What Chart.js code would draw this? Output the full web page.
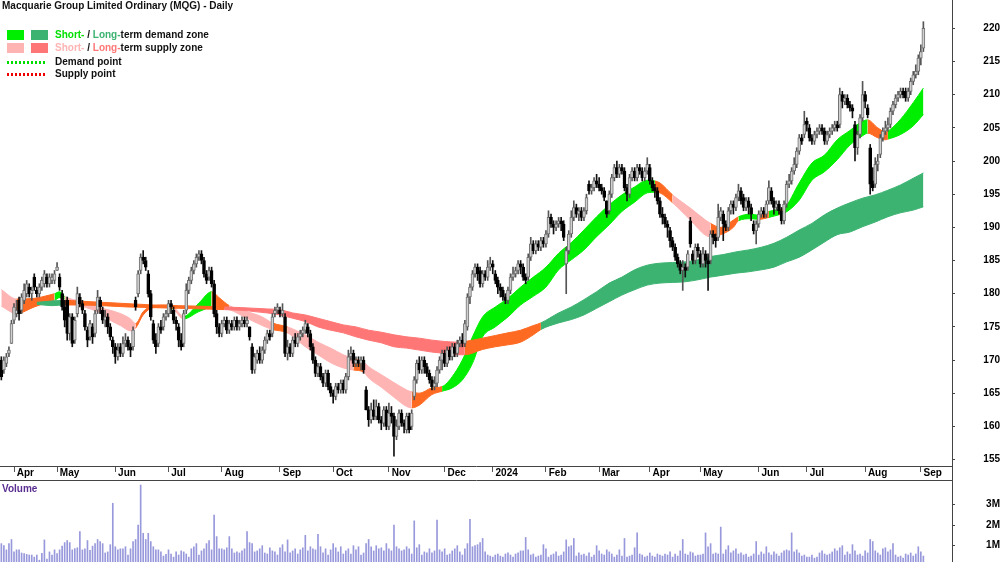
<!DOCTYPE html>
<html>
<head>
<meta charset="utf-8">
<script src="https://cdn.jsdelivr.net/npm/chart.js@4.4.1/dist/chart.umd.min.js"></script>
<style>
html,body{margin:0;padding:0;background:#fff}
body{width:1000px;height:562px;position:relative;overflow:hidden;font-family:"Liberation Sans",Arial,Helvetica,sans-serif}
canvas{position:absolute;left:0}
#priceCanvas{top:0}
#volCanvas{top:480px}
.txt{position:absolute;font-size:10px;font-weight:bold;line-height:12px;white-space:nowrap;color:#111}
.sw{position:absolute;width:17px;height:10px}
.dots{position:absolute;left:7px;width:38px;height:3px}
</style>
</head>
<body>
<canvas id="priceCanvas" width="1000" height="481"></canvas>
<canvas id="volCanvas" width="1000" height="82"></canvas>
<div class="txt" style="left:2px;top:0px">Macquarie Group Limited Ordinary (MQG) - Daily</div>
<div class="sw" style="left:7px;top:30px;background:#00ee00"></div>
<div class="sw" style="left:31px;top:30px;background:#3cb371"></div>
<div class="txt" style="left:55px;top:29px"><span style="color:#00e000">Short-</span> / <span style="color:#3cb371">Long-</span>term demand zone</div>
<div class="sw" style="left:7px;top:43px;background:#ffb4b4"></div>
<div class="sw" style="left:31px;top:43px;background:#ff7676"></div>
<div class="txt" style="left:55px;top:42px"><span style="color:#ffb4b4">Short-</span> / <span style="color:#ff7676">Long-</span>term supply zone</div>
<div class="dots" style="top:61px;background:repeating-linear-gradient(90deg,#00dd00 0 2px,transparent 2px 4px)"></div>
<div class="txt" style="left:55px;top:56px">Demand point</div>
<div class="dots" style="top:73px;background:repeating-linear-gradient(90deg,#ee0000 0 2px,transparent 2px 4px)"></div>
<div class="txt" style="left:55px;top:68px">Supply point</div>
<div class="txt" style="left:2px;top:483px;color:#5a2d91">Volume</div>
<script>
// ---------- axis labels ----------
const monthTickIdx = [5,22,45,66,87,110,131,153,175,194,215,236,256,276,299,318,341,363];
const monthLabels = ['Apr','May','Jun','Jul','Aug','Sep','Oct','Nov','Dec','2024','Feb','Mar','Apr','May','Jun','Jul','Aug','Sep'];
const priceTicks = [155,160,165,170,175,180,185,190,195,200,205,210,215,220];
const volTicks = [1,2,3];
const volTickLabels = ['1M','2M','3M'];

// ---------- daily candles (trading-day index 0..364) ----------
const open = [
170,168.5,169.5,171,172.5,176,177,179,177.5,179,
180,181,180,182.5,180.5,180,181,181.5,182.5,181.5,
182,182,183.5,182.5,180,178,179,174,176.5,173,
177,179.5,178.5,177,174.5,173.5,175,174,177.5,179,
177.5,176,176.5,175,173,172,170.5,172,171,172.5,
173,172,172,179,180,183.5,185.5,185,183,180,
175.5,173,172.5,175,175,176.5,177,178.5,177.5,176,
175,173,172.5,177.5,180.5,182,183.5,184.5,185.5,186,
185,183,182.5,183.5,181.5,177,175,174,175.5,176,
174.5,175.5,175,176,175,175.5,176,175.5,175,172,
168.5,170,171,170,171.5,173,174,174,177,177.5,
177.5,177,176.5,171,172,171,173,172.5,173.5,174,
174.5,175,174,172,170,168,169,167.5,166.5,168,
166,165,164.5,166,165.5,166.5,165.5,167.5,170.5,171,
169.5,170,169.5,170,165.5,162.5,161,162.5,161.5,163,
161,160.5,162.5,160,162,161.5,158.5,160,162,160.5,
159.5,161.5,160,164.5,167,169.5,168.5,170,169,168,
167,166,166.5,168.5,170,171,169.5,171.5,170.5,172,
171,172.5,173,172.5,175,179.5,181,183,184,183.5,
181.5,183,182.5,184,184.5,183,182,181,180.5,179.5,
179,180.5,182.5,183,183.5,184.5,184,182.5,182.5,185.5,
187.5,186.5,187.5,187,188,187.5,189,191.5,190.5,190,
190.5,191,190.5,184.5,186.5,189,191.5,193,192,192.5,
191.5,192.5,196.5,195.5,196,197,196.5,196,195.5,194,
192.5,195,197.5,199,198,199,198.5,196,195,197.5,
198.5,197.5,199,198.5,197.5,198.5,199,197,196,195.5,
194,192,191.5,190.5,189.5,188,187,185.5,184.5,183.5,
184,184,191,186,185,187,186,184.5,186,185,
185,189,188.5,188.5,191.5,192,190.5,190,192.5,193.5,
193,194.5,195.5,194.5,193,194,193,190.5,189.5,190.5,
192,192.5,192,194,195.5,194,193,193.5,192.5,191,
193.5,196.5,197,198.5,199.5,201.5,203.5,204,206,205,
203.5,203,204,204.5,205,204.5,203,204,204.5,205,
205.5,205.5,210,209,209.5,208.5,208,205.5,202,204,
206.5,210,208,202,197,196.5,199.5,201,203.5,204.5,
205,205.5,207.5,208.5,209.5,210,210.5,210.5,209.5,210.5,
212,213,213.5,215.5,217];
const high = [
170.5,170.5,171,172,176,178.5,179,179.5,180,181.5,
182,181.5,181,183,181,181.5,182.5,183.5,183,183,
183,183.5,184.7,183,180.5,179,179.5,177,177,176.5,
181,180,179,177.5,175,176,175.5,177.5,180.5,179.5,
178,177.5,177,175.5,173.5,172.5,172.5,172.5,173.5,174,
173.5,172.5,175,179.5,183.5,186,186.5,185.5,183.5,180.5,
176,174,175.5,176,177,177.5,179,179,178,176.5,
175.5,174,177.5,181.5,182.5,184,185,186,186.5,186.5,
185.5,183.5,184,184,182,177.5,175.5,176,176.5,176.5,
176,176,176.5,176.5,176,176.5,176.5,176.5,175,172.5,
171,171.5,172,172,173.5,174.5,174.5,177,178,178.5,
178,178.5,177,173,172.5,173.5,174,174,174.5,175,
176,175.5,174.5,172.5,170.5,169.5,169.5,168,168.5,168.5,
166.5,165.5,166.5,166.5,167,167,168,171.5,172,171.5,
170.5,170.5,170.5,170.5,166,163,163.5,164,164,163.5,
161.5,163,163,163.5,163,162,161,162.5,162.5,161,
162,162,162.5,167.5,170,170.5,170.5,170.5,169.5,168.5,
167.5,167.5,169,170.5,171.5,171.5,172,172,172.5,172.5,
173,173.5,174,176,180,181.5,183.5,184.5,184.5,184,
183.5,183.5,185,185.5,185,183.5,182.5,181.5,181,180,
181,183,184,184,185,185,184.5,183,186,188.5,
188,188,188,188.5,188.5,189.5,192.5,192,191,191,
191.5,191.5,191,187,189.5,192.5,194,193.5,193,193,
193,195,197,196.5,197.5,198,197.5,196.5,196,194,
195.5,198,199.5,200,199.5,199.5,199,196.5,198,199,
199,199.5,199.5,199,199,200.5,199.5,197.5,196.5,196,
194.5,193,192,191,190,188.5,187.5,186,185,185,
184.5,186.5,191.5,186.5,187.5,187.5,186.5,187,186.5,186,
189.5,189.5,189,193.5,193,192.5,191,193,194,194,
195,196.5,196,195,194.5,194.5,193.5,191,191,192.5,
193,193,194,197,196,194.5,194,194,193,194,
197,198,199,200.5,202,204,204,207.5,206.5,205.5,
204,204.5,205,205.5,205.5,205,204.5,205,205.5,206,
206,211,210.5,210,210,209,208.5,206,204.5,207,
212,210.5,208.5,202.5,199,200.5,201,204,205,206,
206.5,208,209,210,210.5,211,211,211,211,212.5,
213.5,214.5,216,217.5,221];
const low = [
167,168,169,170.5,172.5,175.5,176.5,176,177,178.5,
179.5,179.5,179,180.5,179.5,179.5,180.5,181,181,181,
181.5,181.5,183.5,180.5,177.5,175,173,173,172,172.5,
176.5,178,177,174.5,172,173,172.5,173.5,177,177,
175.5,175,174,173,171,169.5,170,170.5,170.5,172,
171.5,170.5,171.5,177.5,179.5,183,184.5,183.5,179.5,176,
172.5,171,172,174,174.5,176,176.5,177,175.5,174.5,
172,171.5,172,177,180,181.5,183,184,185,184.5,
182.5,181.5,182,181,176.5,174,173.5,173.5,175,174,
174,174.5,174.5,174.5,174.5,175,175,175,173,168,
168,169.5,169.5,169.5,171,172.5,173,173.5,176.5,177,
176.5,176.5,170.5,170,170.5,170.5,172,172,173,173.5,
174,173.5,171.5,169.5,167.5,167.5,167,166,166,165.5,
164.5,163.5,164,165,165,165,165,167,170,169,
169,169,168.5,168,162.5,160,160.5,161,161,160.5,
159.5,160,159.5,159.5,160.5,155.5,158,159.5,160,159,
159,159,159.5,164,166.5,168,168,168,167.5,166.5,
165.5,165.5,166,168,168.5,169,169,170,170,170.5,
170.5,172,172,172,174.5,178.5,180.5,182.5,182,181,
181,182,182,183.5,183,181.5,180,179.5,179,178.5,
178.5,180,182,182.5,183,183,182,181.5,182,185,
186,186,186.5,186.5,187,187,188.5,190,189,189.5,
190,189.5,188,180,186,188.5,191,191.5,191,191,
191,192,195,195,195.5,196,195.5,195,194,191.5,
192,194.5,197,197.5,197.5,198,195.5,194,194.5,197,
197,197,198,197,197,198,196.5,195.5,194.5,193.5,
191.5,190.5,190,188.5,187,186.5,185,184,183,180.5,
182.5,183.5,187,184.5,184.5,185.5,184,184,184,180.5,
184.5,187.5,187,188,191,188,189.5,189.5,192,192,
192.5,194,193.5,192.5,192.5,192,191,189,187.5,190,
191.5,191.5,191.5,193.5,193.5,192,192.5,192,190.5,190.5,
193,196,196.5,198,199,201,202.5,203.5,204.5,203,
202.5,202.5,203.5,204,204,202.5,202.5,203.5,204,204.5,
204.5,205,208,208.5,208,207.5,206.5,200,201,203.5,
206,208,206.5,195,195.5,196,198.5,200.5,203,204,
204.5,205,207,208,209,209.5,209.5,209,209,210,
211.5,212.5,213,214.5,216.5];
const close = [
167.5,170,170.5,171.5,175.5,178,177.5,177,179.5,180.5,
181.5,180,180.5,181,180,181,182,183,181.5,182.5,
182.5,183,184,181,178,176,174,176.5,172.5,176,
180,178.5,177.5,175,173,175.5,173.5,177,179.5,178,
176,176.5,175,173.5,172,170.5,171.5,171,172.5,173,
172,171.5,174.5,178,183,185.5,185,184,180,176.5,
173,172,175,174.5,176.5,177,178.5,178,176,175.5,
173,172,177,180.5,182,183.5,184.5,185.5,186,185,
183,182,183.5,181.5,177,175,174,175.5,176,174.5,
175.5,175,176,175,175.5,176,175.5,176,173.5,168.5,
170.5,171,170,171.5,173,174,173.5,176.5,177.5,178,
177,177.5,171,172,171,173,172.5,173.5,174,174.5,
175.5,174,172,170,168,169,167.5,166.5,168,166,
165,164.5,166,165.5,166.5,165.5,167.5,170.5,171,169.5,
170,169.5,170,168.5,162.5,161,162.5,161.5,163,161,
160.5,162.5,160,162,161.5,158.5,160,162,160.5,160,
161.5,159.5,162,167,169.5,168.5,170,169,168,167,
166,166.5,168.5,170,171,169.5,171.5,170.5,172,171,
172.5,173,172.5,175.5,179.5,181,183,184,183,181.5,
183,182.5,184,184.5,184,182,181,180.5,179.5,179,
180.5,182.5,183,183.5,184.5,184,182.5,182,185.5,187.5,
186.5,187.5,187,188,187.5,189,191.5,190.5,190,190.5,
191,190.5,188.5,186.5,189,191.5,193,192,192.5,191.5,
192.5,194.5,195.5,196,197,196.5,196,195.5,194.5,192,
195,197.5,199,198,199,198.5,196,195,197.5,198.5,
197.5,199,198.5,197.5,198.5,199.5,197,196,195.5,194,
192,191.5,190.5,190,188,187,185.5,184.5,183.5,184,
183.5,186,187.5,185,187,186.5,184.5,186,185,184.5,
189,188.5,188,191.5,192.5,190.5,190,192.5,193.5,193,
194.5,195.5,194,193,194,193,192,189.5,190.5,192,
192.5,192,193.5,196,194,193,193.5,192.5,191,193.5,
196.5,197,198.5,199.5,201.5,203.5,203,205.5,205.5,203.5,
203,204,204.5,205,204.5,203,204,204.5,205,205.5,
205,210,209,209.5,208.5,208,207.5,202,204,206.5,
210,209,207,196.5,196,199.5,200,203.5,204.5,205,
205.5,207.5,208.5,209.5,210,210.5,210,209.5,210.5,212,
213,213.5,215.5,216.5,220];
// volume in millions
const volume = [
1.1,1.0,0.8,1.1,1.3,0.7,0.8,0.8,0.65,0.62,
0.58,0.55,0.55,0.45,0.55,0.3,0.63,1.28,0.35,0.7,
0.55,0.8,0.62,0.8,0.98,1.15,1.25,1.15,0.8,0.86,
0.9,1.68,0.8,0.85,1.25,0.78,0.98,1.1,1.3,1.2,
1.1,0.65,0.7,1.05,3.05,0.95,0.8,0.85,0.85,0.95,
0.55,0.85,1.2,1.3,2.0,3.93,1.6,1.3,1.6,1.2,
0.95,0.8,0.8,0.7,0.5,0.58,0.8,0.6,0.45,0.7,
0.55,0.75,0.7,0.6,0.45,0.85,0.95,1.1,0.55,0.75,
0.85,1.1,1.25,0.8,2.48,1.44,0.85,0.85,0.8,0.9,
1.44,0.85,0.65,0.7,0.65,0.75,0.85,1.68,1.15,1.1,
0.7,0.75,0.85,1.0,0.65,0.6,0.9,0.75,0.7,0.55,
0.9,1.05,0.7,1.28,0.65,0.75,0.85,0.6,0.8,0.9,
1.5,0.75,0.95,0.85,0.8,1.55,0.95,0.65,0.85,0.55,
0.8,1.1,0.9,0.7,0.95,0.6,0.75,0.85,0.6,1.0,
0.8,0.95,0.55,0.65,1.1,1.3,0.95,0.75,1.0,0.85,
0.9,0.75,1.1,0.85,0.75,2.0,0.95,0.85,0.75,0.8,
0.95,0.85,0.6,2.2,0.9,1.05,0.55,0.7,0.65,0.85,
0.65,0.75,2.24,0.8,0.7,0.85,0.55,0.6,0.75,0.85,
1.0,0.7,0.55,0.85,1.1,2.27,0.95,1.0,1.05,1.15,
1.35,0.7,0.55,0.5,0.45,0.55,0.6,0.5,0.45,0.6,
0.65,0.55,0.45,0.6,0.65,0.75,0.75,1.4,0.8,0.55,
0.6,0.45,0.5,0.55,1.05,0.85,0.45,0.55,0.6,0.7,
0.5,0.55,0.7,1.28,0.95,1.0,1.35,0.5,0.65,0.55,
0.6,0.5,0.65,0.45,0.55,1.0,0.75,0.6,0.55,0.8,
0.7,0.6,0.45,0.55,0.8,0.5,1.35,0.45,0.5,0.55,
0.9,1.62,0.6,0.55,0.45,0.5,0.65,0.5,0.45,0.6,
0.55,0.5,0.6,0.55,0.7,0.45,0.6,0.5,0.75,1.3,
0.6,0.55,0.7,0.65,0.5,0.55,0.55,0.6,1.62,0.95,
1.1,0.6,0.65,0.6,1.9,0.6,0.8,1.0,0.65,0.75,
0.85,0.6,0.65,0.55,0.6,0.45,0.5,0.6,1.2,0.55,
0.7,0.6,0.95,0.65,0.55,0.7,0.6,0.5,0.65,0.75,
0.8,0.75,1.62,0.7,0.8,0.65,0.5,0.55,0.45,0.45,
0.55,0.4,0.45,0.65,0.75,0.6,0.55,0.6,0.7,0.85,
0.75,0.9,1.0,0.55,0.7,0.6,1.05,0.75,0.55,0.6,
0.5,0.75,0.65,1.3,1.2,0.75,0.65,0.55,0.85,0.9,
0.7,0.8,1.1,0.55,0.45,0.5,0.4,0.6,0.55,0.65,
0.5,0.6,0.95,0.7,0.5];

// ---------- short-term zone (read at these trading days) ----------
const stDays = [0,6,13,19,21,23,25,32,39,43,47,51,53,56,60,66,68,72,78,83,86,90,97,103,107,113,120,125,130,135,139,143,145,150,155,160,162,165,170,174,178,182,186,190,195,200,205,210,215,220,225,230,235,240,245,250,255,258,260,265,272,278,280,284,289,291,296,299,303,307,309,315,320,325,330,335,340,342,346,349,350,355,360,364];
const stHi = [180.6,179.2,179.3,179.8,180.0,180.3,179.6,178.8,177.9,177.5,177.0,176.2,175.5,177.3,178.2,178.3,178.0,176.6,178.6,180.3,179.4,178.2,177.3,176.5,175.6,175.0,173.8,172.7,171.8,170.8,170.2,169.7,169.0,167.8,166.6,165.5,165.2,165.0,165.8,166.0,167.5,170.0,173.5,176.5,178.0,179.3,181.0,182.5,184.0,186.1,187.7,189.6,191.6,193.4,194.9,196.1,197.1,197.0,196.7,194.9,192.9,191.1,190.6,190.0,191.1,191.6,192.0,191.8,192.4,192.7,192.9,196.7,199.7,200.9,203.2,204.6,206.0,206.2,205.0,204.4,204.5,206.3,208.8,211.0];
const stLo = [178.1,177.0,178.0,178.8,179.0,179.4,179.2,178.1,177.1,176.0,175.2,174.4,174.8,176.8,177.9,178.0,177.6,176.2,177.3,177.9,177.9,177.6,176.3,175.2,174.6,174.1,172.0,170.8,169.6,168.8,168.5,168.2,167.3,165.9,164.4,163.0,162.8,163.2,164.8,165.3,165.8,167.0,169.5,173.5,175.0,176.5,178.3,179.6,181.0,183.6,185.1,186.6,188.6,190.4,192.4,193.8,195.2,195.3,195.2,193.7,191.1,188.8,188.6,188.9,190.0,191.0,191.3,191.2,191.5,191.9,192.1,194.1,197.1,198.4,200.2,202.4,203.8,204.2,203.5,203.2,203.3,204.0,205.3,207.0];
// zone state from each point: D demand, S supply, N neutral (orange)
const stZone = 'SNNNDDSSSSSSNNNDSDDNNSSSNSSSSSNSSSSSNNNDDDDDDDDDDDDDDDDDDNNSSSNNNDDNDNDDDDDDDNNNDDDD';

// ---------- long-term zone ----------
const ltDays = [14,20,25,30,40,50,60,70,80,88,95,100,105,110,115,120,125,130,135,140,145,150,155,160,165,170,175,180,183,190,195,200,205,210,213,220,225,230,235,240,245,250,255,260,265,270,275,280,285,290,295,300,305,310,315,320,325,330,335,340,345,350,355,360,364];
const ltHi = [178.7,178.9,179.0,178.9,178.7,178.5,178.3,178.2,178.1,178.0,177.9,177.8,177.7,177.6,177.1,176.8,176.3,175.8,175.3,175.0,174.5,174.2,173.8,173.5,173.3,173.0,172.8,172.7,172.8,173.3,173.7,174.1,174.5,175.2,175.6,177.1,178.0,179.1,180.3,181.6,182.5,183.6,184.3,184.6,184.7,184.8,185.1,185.6,185.9,186.3,186.6,187.0,187.6,188.5,189.6,190.6,191.9,192.9,193.7,194.4,194.9,195.6,196.4,197.4,198.2];
const ltLo = [178.4,178.2,178.3,178.3,178.2,178.0,177.9,177.8,177.7,177.6,177.5,177.3,177.1,176.8,176.3,175.8,175.0,174.5,174.1,173.5,173.0,172.6,172.0,171.8,171.5,171.2,171.0,170.8,170.8,171.6,172.0,172.3,172.7,173.8,174.6,175.6,176.1,176.8,177.8,178.8,179.8,180.6,181.3,181.6,181.7,181.8,182.1,182.5,182.8,183.1,183.3,183.6,184.0,184.8,185.5,186.6,187.8,188.9,189.3,190.1,190.8,191.6,192.2,192.6,193.1];
const ltZone = 'DDNNNNNNNSSSSSSSSSSSSSSSSSSSNNNNNNDDDDDDDDDDDDDDDDDDDDDDDDDDDDDDD';

// ---------- styling ----------
const FONT = {family:'"Liberation Sans", Arial, sans-serif', size:10, weight:'bold'};
const X_MIN = -0.53, X_MAX = 375.3;
const ST_COL = {D:'#00ee00', S:'#ffb4b4', N:'#ff6a22'};
const LT_COL = {D:'#3cb371', S:'#ff7676', N:'#ff6a22'};
const AXIS_COL = '#444';

const days = close.map((_, i) => i);

function bandDs(dArr, vals, zones, cols, fill, order) {
  return {
    type:'line', order, fill,
    data: dArr.map((d,k) => ({x:d, y:vals[k]})),
    borderWidth:1, pointRadius:0, pointHoverRadius:0,
    cubicInterpolationMode:'monotone',
    borderColor: cols[zones[0]], backgroundColor: cols[zones[0]],
    segment:{
      borderColor: c => cols[zones[c.p0DataIndex]],
      backgroundColor: c => cols[zones[c.p0DataIndex]]
    }
  };
}

function fixH(h){ return s => { s.height = h; s.paddingLeft = 0; s.paddingRight = 0; s.paddingTop = 0; s.paddingBottom = 0; }; }
function fixW(w){ return s => { s.width = w; s.paddingLeft = 0; s.paddingRight = 0; s.paddingTop = 0; s.paddingBottom = 0; }; }

const stripLine = {
  id:'stripLine',
  afterDraw(chart){
    const c = chart.ctx, a = chart.chartArea;
    c.save(); c.strokeStyle = AXIS_COL; c.lineWidth = 1;
    c.beginPath(); c.moveTo(a.right + 0.5, a.bottom); c.lineTo(a.right + 0.5, chart.height); c.stroke();
    c.restore();
  }
};

new Chart(document.getElementById('priceCanvas'), {
  type:'bar',
  data:{datasets:[
    bandDs(stDays, stHi, stZone, ST_COL, false, 5),
    bandDs(stDays, stLo, stZone, ST_COL, '-1', 4),
    bandDs(ltDays, ltHi, ltZone, LT_COL, false, 3),
    bandDs(ltDays, ltLo, ltZone, LT_COL, '-1', 2),
    {type:'bar', stack:'c', order:1, data: days.map(i => ({x:i, y:[low[i], high[i]]})),
     barThickness:1, backgroundColor: days.map(i => close[i] >= open[i] ? '#555' : '#111'), borderWidth:0},
    {type:'bar', stack:'c', order:0, data: days.map(i => ({x:i, y:[open[i], close[i]]})),
     barThickness:3, minBarLength:1,
     backgroundColor: days.map(i => close[i] >= open[i] ? '#d0d0d0' : '#000'),
     borderColor: days.map(i => close[i] >= open[i] ? '#707070' : '#000'),
     borderWidth:1, borderSkipped:false}
  ]},
  options:{
    responsive:false, animation:false, devicePixelRatio:1, events:[],
    layout:{padding:0, autoPadding:false},
    plugins:{legend:{display:false}, tooltip:{enabled:false}},
    scales:{
      x:{type:'linear', position:'bottom', min:X_MIN, max:X_MAX, offset:false,
        afterBuildTicks: s => { s.ticks = monthTickIdx.map(v => ({value:v})); },
        afterFit: fixH(15),
        grid:{drawOnChartArea:false, drawTicks:true, tickLength:6, color:'#555', offset:false},
        border:{display:true, color:AXIS_COL},
        ticks:{autoSkip:false, maxRotation:0, minRotation:0, align:'start', padding:-5, color:'#000', font:FONT,
          callback:(v, i) => ' ' + monthLabels[i]}},
      y:{type:'linear', position:'right', min:154.03, max:224.27, stacked:false, beginAtZero:false,
        afterBuildTicks: s => { s.ticks = priceTicks.map(v => ({value:v})); },
        afterFit: fixW(48),
        grid:{drawOnChartArea:false, drawTicks:true, tickLength:3, color:AXIS_COL},
        border:{display:true, color:AXIS_COL},
        ticks:{padding:23, crossAlign:'far', color:'#000', font:FONT, callback: v => String(v)}}
    }
  },
  plugins:[stripLine]
});

new Chart(document.getElementById('volCanvas'), {
  type:'bar',
  data:{datasets:[
    {type:'bar', data: days.map(i => ({x:i, y:volume[i]})), barThickness:1, backgroundColor:'#9898dc', borderWidth:0}
  ]},
  options:{
    responsive:false, animation:false, devicePixelRatio:1, events:[],
    layout:{padding:0, autoPadding:false},
    plugins:{legend:{display:false}, tooltip:{enabled:false}},
    scales:{
      x:{type:'linear', position:'top', min:X_MIN, max:X_MAX, offset:false,
        afterFit: fixH(0),
        grid:{drawOnChartArea:false, drawTicks:false, offset:false},
        border:{display:true, color:AXIS_COL},
        ticks:{display:false}},
      y:{type:'linear', position:'right', min:0.2126, max:4.174, beginAtZero:false,
        afterBuildTicks: s => { s.ticks = volTicks.map(v => ({value:v})); },
        afterFit: fixW(48),
        grid:{drawOnChartArea:false, drawTicks:true, tickLength:3, color:AXIS_COL},
        border:{display:true, color:AXIS_COL},
        ticks:{padding:26, crossAlign:'far', color:'#000', font:FONT,
          callback: (v, i) => volTickLabels[i]}}
    }
  }
});
</script>
</body>
</html>
